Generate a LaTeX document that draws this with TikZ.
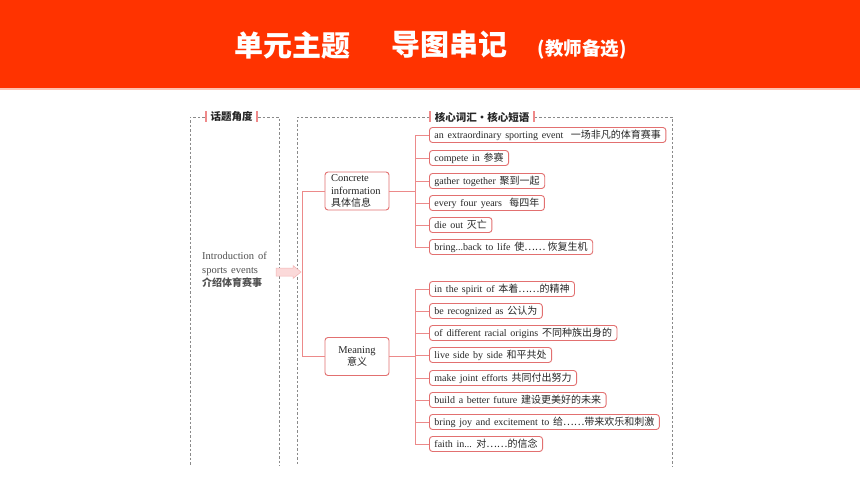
\documentclass[tikz,border=0pt]{standalone}
\usepackage{fontspec}
\setmainfont{Liberation Serif}[WordSpace=1.5]
\newfontfamily\cjk{Noto Sans CJK SC}
\newcommand{\zh}[1]{{\cjk\fontsize{10}{11}\selectfont #1}}
\usetikzlibrary{positioning}
\definecolor{hdr}{HTML}{FF3300}
\definecolor{hdrline}{HTML}{FFC2B0}
\definecolor{boxc}{HTML}{E27070}
\definecolor{linec}{HTML}{EC8A8A}
\definecolor{txt}{HTML}{262626}
\definecolor{dashc}{HTML}{8A8A8A}
\definecolor{barc}{HTML}{F08A8A}
\definecolor{arrowf}{HTML}{FBD9D9}
\definecolor{arrowd}{HTML}{F4B4B4}
\tikzset{
  itembox/.style={draw=boxc, line width=0.9pt, rounded corners=3pt, fill=white,
    anchor=west, inner xsep=5pt, inner ysep=0pt, minimum height=15pt,
    font=\fontsize{10}{11}\selectfont, text=txt},
  catbox/.style={draw=boxc, line width=0.9pt, rounded corners=3pt, fill=white,
    minimum width=64pt, minimum height=38pt, inner xsep=6pt, inner ysep=0pt,
    font=\fontsize{10.5}{12.3}\selectfont, text=txt},
  conn/.style={draw=linec, line width=0.9pt},
  dashbox/.style={draw=dashc, line width=0.6pt, dash pattern=on 2.5pt off 2pt},
  pinkbar/.style={fill=barc, draw=none, minimum width=2pt, minimum height=11pt, inner sep=0pt},
  hlabel/.style={font=\cjk\bfseries\fontsize{10.5}{12}\selectfont, text=txt, inner sep=0pt},
  titletext/.style={text=white, inner sep=0pt},
}
\newcommand{\ibox}[4]{\node[itembox] (#1) at (429,#2) {#3\zh{#4}};}
\begin{document}
\begin{tikzpicture}[x=1pt,y=-1pt]
\useasboundingbox (0,0) rectangle (860,484);
\fill[white] (0,0) rectangle (860,484);
% header band
\fill[hdr] (0,0) rectangle (860,88);
\fill[hdrline] (0,88) rectangle (860,90);
\node[titletext, font=\cjk\bfseries\fontsize{29}{32}\selectfont] (t1) at (292,45) {单元主题};
\node[titletext, font=\cjk\bfseries\fontsize{29}{32}\selectfont] (t2) at (449,45) {导图串记};
\node[titletext, font=\cjk\bfseries\fontsize{18.5}{20}\selectfont] (t3) at (582,49) {(教师备选)};

% left dashed panel
\node[hlabel] (lh) at (231.5,117) {话题角度};
\node[pinkbar, left=3pt of lh] (lb1) {};
\node[pinkbar, right=3pt of lh] (lb2) {};
\draw[dashbox] (lb1.west) -- (190,117) -- (190,466);
\draw[dashbox] (lb2.east) -- (279,117) -- (279,466);
% right dashed panel
\node[hlabel] (rh) at (482,117) {核心词汇·核心短语};
\node[pinkbar, left=3pt of rh] (rb1) {};
\node[pinkbar, right=3pt of rh] (rb2) {};
\draw[dashbox] (rb1.west) -- (297,117) -- (297,466);
\draw[dashbox] (rb2.east) -- (672,117) -- (672,466);

% left text
\node[anchor=west, align=left, inner sep=0pt, text=txt!80, font=\fontsize{10.5}{13.5}\selectfont] (intro) at (202,270)
  {Introduction of\\sports events\\{\cjk\bfseries\fontsize{10}{12}\selectfont 介绍体育赛事}};

% block arrow
\fill[arrowf, draw=arrowd, line width=0.5pt] (276,268) -- (293,268) -- (293,265.5) -- (301,272)
  -- (293,278.5) -- (293,276) -- (276,276) -- cycle;

% category boxes
\node[catbox, text width=52pt, align=left] (cc) at (357,191)
  {Concrete\\information\\{\cjk\fontsize{10}{12}\selectfont 具体信息}};
\node[catbox, text width=52pt, align=center] (mm) at (357,356.5)
  {Meaning\\{\cjk\fontsize{10}{12}\selectfont 意义}};

% items group 1
\ibox{a1}{135}{an extraordinary sporting event \ }{一场非凡的体育赛事}
\ibox{a2}{158}{compete in }{参赛}
\ibox{a3}{181}{gather together }{聚到一起}
\ibox{a4}{203}{every four years \ }{每四年}
\ibox{a5}{225}{die out }{灭亡}
\ibox{a6}{247}{bring...back to life }{使…… 恢复生机}
% items group 2
\ibox{b1}{289}{in the spirit of }{本着……的精神}
\ibox{b2}{311}{be recognized as }{公认为}
\ibox{b3}{333}{of different racial origins }{不同种族出身的}
\ibox{b4}{355}{live side by side }{和平共处}
\ibox{b5}{378}{make joint efforts }{共同付出努力}
\ibox{b6}{400}{build a better future }{建设更美好的未来}
\ibox{b7}{422}{bring joy and excitement to }{给……带来欢乐和刺激}
\ibox{b8}{444}{faith in... }{对……的信念}

% connectors
\coordinate (lsp) at (302,191);
\draw[conn] (cc.west) -- (lsp) |- (mm.west);
\path (a1.west) ++(-14,0) coordinate (ja);
\path (b1.west) ++(-14,0) coordinate (jb);
\draw[conn] (cc.east) -- (cc.east -| ja);
\draw[conn] (mm.east) -- (mm.east -| jb);
\draw[conn] (a1.west) -- (ja) |- (a6.west);
\foreach \n in {a2,a3,a4,a5} \draw[conn] (\n.west) -- ++(-14,0);
\draw[conn] (b1.west) -- (jb) |- (b8.west);
\foreach \n in {b2,b3,b4,b5,b6,b7} \draw[conn] (\n.west) -- ++(-14,0);
\end{tikzpicture}
\end{document}
